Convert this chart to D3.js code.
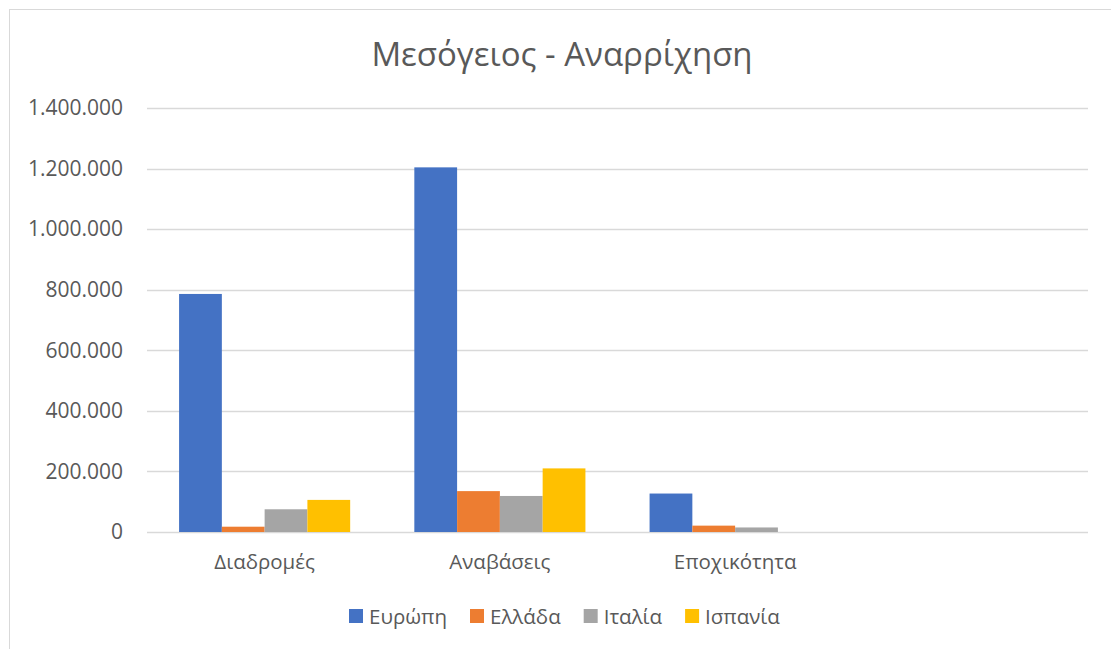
<!DOCTYPE html>
<html>
<head>
<meta charset="utf-8">
<script src="https://d3js.org/d3.v7.min.js"></script>
<style>
  body { margin: 0; background: #fff; }
  text { font-family: "Open Sans", "Noto Sans", sans-serif; fill: #595959; }
</style>
</head>
<body>
<div id="chart"></div>
<script>
// data
var categories = ["Διαδρομές", "Αναβάσεις", "Εποχικότητα", ""];
var seriesNames = ["Ευρώπη", "Ελλάδα", "Ιταλία", "Ισπανία"];
var europe = [786000, 1204000, 127000, null];
var greece = [17500, 135000, 21000, null];
var italy  = [75000, 119000, 15000, null];
var spain  = [106000, 210000, 0, null];
var yTicks = [0, 200000, 400000, 600000, 800000, 1000000, 1200000, 1400000];
var colors = ["#4472C4", "#ED7D31", "#A5A5A5", "#FFC000"];

var series = [europe, greece, italy, spain];

var W = 1111, H = 649;
var margin = {top: 108, right: 24, bottom: 117, left: 147},
    width = 941,
    height = 424;

var svg = d3.select("#chart").append("svg")
    .attr("width", W)
    .attr("height", H);

// chart frame
svg.append("rect")
    .attr("x", 9.5).attr("y", 9.5)
    .attr("width", 1130).attr("height", 680)
    .attr("fill", "none")
    .attr("stroke", "#D9D9D9");

svg.append("text")
    .attr("x", 562).attr("y", 66)
    .attr("text-anchor", "middle")
    .style("font-size", "33px")
    .text("Μεσόγειος - Αναρρίχηση");

var g = svg.append("g")
    .attr("transform", "translate(" + margin.left + "," + margin.top + ")");

var x = d3.scaleBand().domain(d3.range(categories.length)).range([0, width]);
// Excel style: gap width 150% of a bar
var x1 = d3.scaleBand().domain(d3.range(series.length))
    .range([0, x.bandwidth()]).paddingOuter(0.75).paddingInner(0);

var y = d3.scaleLinear().domain([0, 1400000]).range([height, 0]);

var locale = d3.formatLocale({decimal: ",", thousands: ".", grouping: [3], currency: ["", "€"]});
var fmt = locale.format(",");

// gridlines
g.append("g")
  .selectAll("line")
  .data(yTicks)
  .join("line")
    .attr("x1", 0).attr("x2", width)
    .attr("y1", function(d) { return Math.round(y(d)) + 0.5; })
    .attr("y2", function(d) { return Math.round(y(d)) + 0.5; })
    .attr("stroke", "#D9D9D9")
    .attr("stroke-width", 1.5);

// y axis labels
var yAxis = g.append("g")
    .call(d3.axisLeft(y).tickValues(yTicks).tickFormat(fmt).tickSize(0).tickPadding(24));
yAxis.select(".domain").remove();
yAxis.selectAll("text").style("font-size", "21px").attr("fill", "#595959");

// x axis labels
var xAxis = g.append("g")
    .attr("transform", "translate(0," + height + ")")
    .call(d3.axisBottom(x).tickFormat(function(i) { return categories[i]; }).tickSize(0).tickPadding(22));
xAxis.select(".domain").remove();
xAxis.selectAll("text").style("font-size", "20.5px").attr("fill", "#595959");

// bars
series.forEach(function(vals, s) {
  g.append("g")
    .attr("fill", colors[s])
    .selectAll("rect")
    .data(vals.map(function(v, i) { return {i: i, v: v}; }).filter(function(d) { return d.v !== null; }))
    .join("rect")
      .attr("x", function(d) { return x(d.i) + x1(s); })
      .attr("width", x1.bandwidth())
      .attr("y", function(d) { return y(d.v); })
      .attr("height", function(d) { return height - y(d.v); });
});

// legend
var legend = svg.append("g").attr("transform", "translate(349,616)");
var lx = 0;
seriesNames.forEach(function(name, s) {
  var item = legend.append("g").attr("transform", "translate(" + lx + ",0)");
  item.append("rect")
    .attr("x", 0).attr("y", -7)
    .attr("width", 14).attr("height", 14)
    .attr("fill", colors[s]);
  var t = item.append("text")
    .attr("x", 20).attr("y", 7.5)
    .style("font-size", "20.5px")
    .text(name);
  lx += 20 + t.node().getComputedTextLength() + 23;
});
</script>
</body>
</html>
